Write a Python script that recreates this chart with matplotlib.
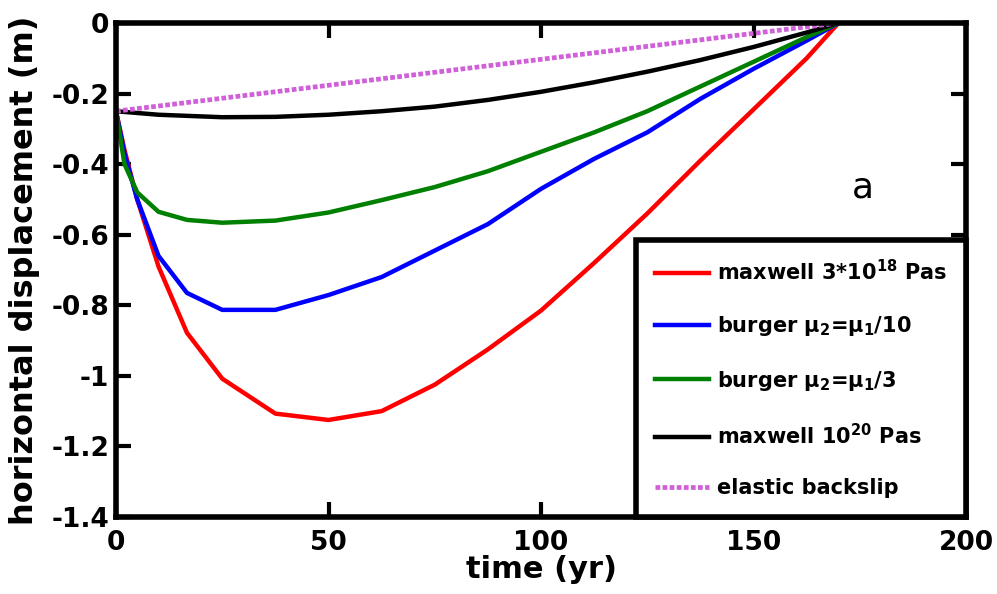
import matplotlib
matplotlib.use('Agg')
import matplotlib.pyplot as plt

# time axis (yr) and displacement curves (m)
t = [0, 2, 5, 10, 16.7, 25, 37.5, 50, 62.5, 75, 87.5, 100, 112.5, 125, 137.5, 150, 162.5, 170]
maxwell_3e18 = [-0.25, -0.36, -0.50, -0.69, -0.878, -1.008, -1.107, -1.125, -1.100, -1.025,
                -0.925, -0.815, -0.68, -0.54, -0.39, -0.245, -0.10, 0.0]
burger_10 = [-0.25, -0.37, -0.50, -0.66, -0.765, -0.813, -0.813, -0.771, -0.72, -0.645,
             -0.57, -0.47, -0.385, -0.31, -0.215, -0.13, -0.05, 0.0]
burger_3 = [-0.25, -0.40, -0.48, -0.535, -0.558, -0.566, -0.56, -0.537, -0.502, -0.465,
            -0.42, -0.365, -0.31, -0.25, -0.18, -0.11, -0.04, 0.0]
t_black = [0, 10, 25, 37.5, 50, 62.5, 75, 87.5, 100, 112.5, 125, 137.5, 150, 162.5, 170]
maxwell_1e20 = [-0.25, -0.26, -0.267, -0.266, -0.26, -0.25, -0.237, -0.218, -0.195, -0.168,
                -0.138, -0.105, -0.068, -0.027, 0.0]
t_elastic = [0, 170]
elastic = [-0.25, 0.0]

labels = ['maxwell 3*10$^{18}$ Pas', 'burger μ$_2$=μ$_1$/10', 'burger μ$_2$=μ$_1$/3',
          'maxwell 10$^{20}$ Pas', 'elastic backslip']
xticks = [0, 50, 100, 150, 200]
yticks = [0, -0.2, -0.4, -0.6, -0.8, -1, -1.2, -1.4]
yticklabels = ['0', '-0.2', '-0.4', '-0.6', '-0.8', '-1', '-1.2', '-1.4']

plt.rcParams['font.family'] = ['DejaVu Sans']
plt.rcParams['font.weight'] = 'bold'
plt.rcParams['mathtext.fontset'] = 'custom'
plt.rcParams['mathtext.rm'] = 'DejaVu Sans:bold'
plt.rcParams['mathtext.it'] = 'DejaVu Sans:bold'
plt.rcParams['mathtext.bf'] = 'DejaVu Sans:bold'

fig = plt.figure(figsize=(9.97, 5.94), dpi=100)
ax = fig.add_axes([116/997, 1 - 517/594, 850/997, 494/594])

lw = 3.2
ax.plot(t, maxwell_3e18, color='#ff0000', lw=lw, label=labels[0])
ax.plot(t, burger_10, color='#0000ff', lw=lw, label=labels[1])
ax.plot(t, burger_3, color='#008000', lw=lw, label=labels[2])
ax.plot(t_black, maxwell_1e20, color='black', lw=lw, label=labels[3])
ax.plot(t_elastic, elastic, color='#d060d8', lw=3.4, ls=(0, (1.0, 0.5)), label=labels[4])

ax.set_xlim(0, 200)
ax.set_ylim(-1.4, 0)
ax.set_xticks(xticks)
ax.set_yticks(yticks)
ax.set_yticklabels(yticklabels)
ax.tick_params(direction='in', length=11, width=3, top=True, right=True, labelsize=19)
ax.tick_params(axis='x', pad=9)
ax.tick_params(axis='y', pad=5)
for s in ax.spines.values():
    s.set_linewidth(4)

ax.set_xlabel('time (yr)', fontsize=22, fontweight='bold', labelpad=0)
ax.set_ylabel('horizontal displacement (m)', fontsize=23, fontweight='bold', labelpad=8)

ax.text(175.8, -0.467, 'a', fontsize=26, fontweight='normal', ha='center', va='center')

leg = ax.legend(loc='lower right', bbox_to_anchor=(1, 0), borderaxespad=0, fancybox=False,
                fontsize=15, handlelength=2.6, handletextpad=0.4, labelspacing=1.45,
                borderpad=0.9, edgecolor='black', framealpha=1)
leg.get_frame().set_linewidth(4)

fig.savefig('out.png', dpi=100)
